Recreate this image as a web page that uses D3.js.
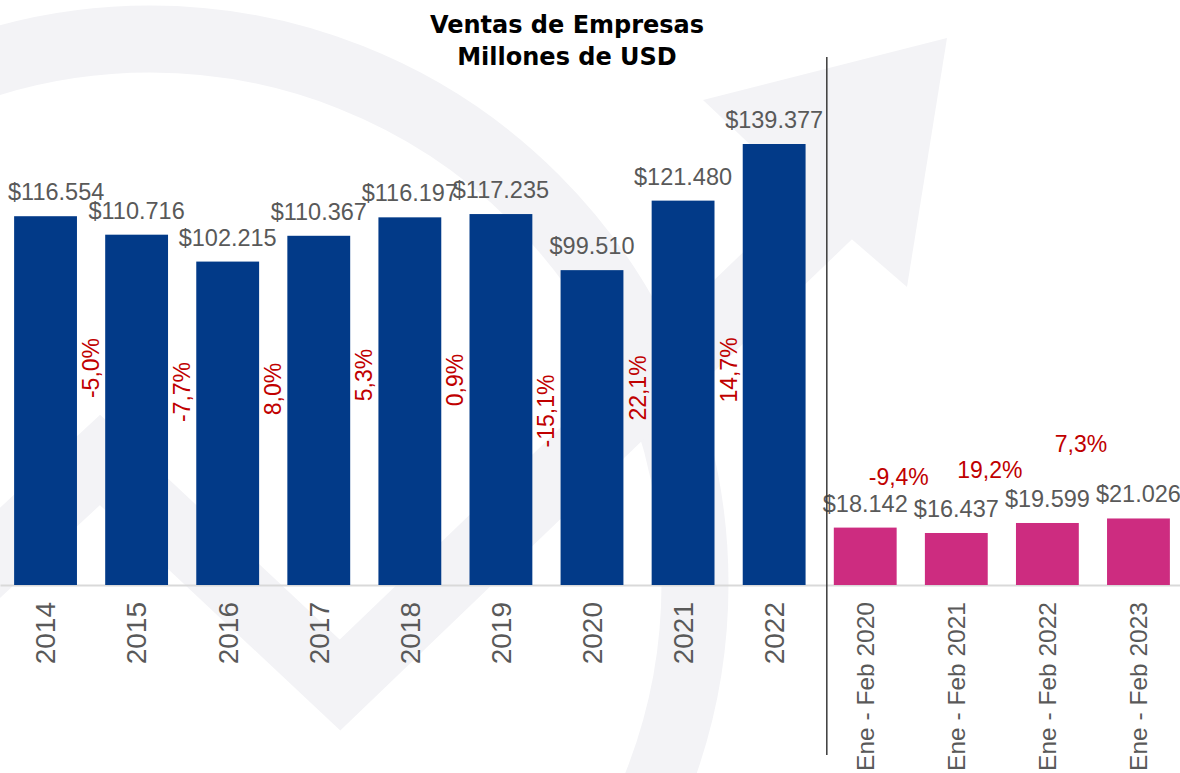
<!DOCTYPE html>
<html>
<head>
<meta charset="utf-8">
<script src="https://cdn.jsdelivr.net/npm/d3@7"></script>
<style>
  body { margin: 0; background: #fff; }
  svg { display: block; }
</style>
</head>
<body>
<svg id="chart"></svg>
<script>
// Ventas de Empresas - annual and Jan-Feb totals (millones de USD)

const years = ["2014", "2015", "2016", "2017", "2018", "2019", "2020", "2021", "2022"];
const periods = ["Ene - Feb 2020", "Ene - Feb 2021", "Ene - Feb 2022", "Ene - Feb 2023"];
const annualSales = [116554, 110716, 102215, 110367, 116197, 117235, 99510, 121480, 139377];
const periodSales = [18142, 16437, 19599, 21026];
const annualChange = [-5.0, -7.7, 8.0, 5.3, 0.9, -15.1, 22.1, 14.7];
const periodChange = [-9.4, 19.2, 7.3];
const titleLines = ["Ventas de Empresas", "Millones de USD"];

const width = 1180, height = 773;
const baseY = 585;

// label placement (copied from the original layout)
const annualPctMidY = [368, 392, 389, 375, 380, 411, 388, 370];
const periodPctBaseY = [485, 478, 452];

const locale = d3.formatLocale({
    decimal: ",", thousands: ".", grouping: [3], currency: ["$", ""], minus: "-"
});
const fmtMoney = locale.format("$,");
const fmtPct = v => locale.format(".1f")(v) + "%";

const categories = years.concat(periods);
const rows = categories.map((c, i) => ({
    cat: c,
    value: i < years.length ? annualSales[i] : periodSales[i - years.length],
    monthly: i >= years.length
}));

const svg = d3.select("#chart")
    .attr("width", width)
    .attr("height", height);

// faint watermark behind the chart
const wmColor = "#f3f3f6";
const wm = svg.append("g").attr("fill", "none").attr("stroke", wmColor);
wm.append("circle")
    .attr("cx", 150).attr("cy", 584).attr("r", 545)
    .attr("stroke-width", 67);
wm.append("path")
    .attr("d", d3.line()([[-40, 590], [100, 460], [340, 685], [840, 205]]))
    .attr("stroke-width", 66)
    .attr("stroke-linejoin", "miter");
wm.append("path")
    .attr("d", "M703,100 L947,38 L907,287 L833,223 Z")
    .attr("fill", wmColor)
    .attr("stroke", "none");

// scales
const x = d3.scaleBand()
    .domain(categories)
    .range([0, 1184])
    .paddingInner(0.31)
    .paddingOuter(0.155);

const y = d3.scaleLinear()
    .domain([0, d3.max(rows, d => d.value)])
    .range([baseY, 144]);

// x axis
const axis = svg.append("g")
    .attr("transform", `translate(0,${baseY})`)
    .call(d3.axisBottom(x).tickSize(0).tickSizeOuter(0));

axis.select(".domain")
    .attr("stroke", "#d9d9d9")
    .attr("stroke-width", 2);

axis.selectAll(".tick text")
    .attr("transform", "rotate(-90)")
    .attr("x", -17)
    .attr("y", 0)
    .attr("dy", "0.35em")
    .attr("text-anchor", "end")
    .attr("fill", "#595959")
    .style("font-family", d => periods.includes(d) ? "'Liberation Sans', Arial, sans-serif" : "'Liberation Sans Narrow', 'Liberation Sans', sans-serif")
    .style("font-size", d => periods.includes(d) ? "24.5px" : "28px");

// bars
svg.append("g")
    .selectAll("rect")
    .data(rows)
    .join("rect")
    .attr("x", d => x(d.cat))
    .attr("y", d => y(d.value))
    .attr("width", x.bandwidth())
    .attr("height", d => baseY - y(d.value))
    .attr("fill", d => d.monthly ? "#cd2c80" : "#023a88");

// value labels
const valueLabels = svg.append("g")
    .style("font-family", "'Liberation Sans', Arial, sans-serif")
    .style("font-size", "23.5px")
    .attr("fill", "#595959")
    .attr("text-anchor", "middle");

valueLabels.selectAll("text")
    .data(rows)
    .join("text")
    .attr("y", d => y(d.value) - 16)
    .text(d => fmtMoney(d.value))
    .attr("x", function(d) {
        const cx = x(d.cat) + x.bandwidth() / 2;
        const w = this.getComputedTextLength();
        return Math.max(cx, 8 + w / 2); // keep it inside the left edge
    });

// change labels between bars
const gap = i => (x(categories[i]) + x.bandwidth() + x(categories[i + 1])) / 2;

const pctLabels = svg.append("g")
    .style("font-family", "'Liberation Sans', Arial, sans-serif")
    .style("font-size", "23px")
    .attr("fill", "#c00000");

pctLabels.selectAll("text.annual")
    .data(annualChange)
    .join("text")
    .attr("class", "annual")
    .attr("text-anchor", "middle")
    .attr("dominant-baseline", "central")
    .attr("transform", (d, i) => `translate(${gap(i)},${annualPctMidY[i]}) rotate(-90)`)
    .text(d => fmtPct(d));

pctLabels.selectAll("text.period")
    .data(periodChange)
    .join("text")
    .attr("class", "period")
    .attr("text-anchor", "middle")
    .attr("x", (d, i) => gap(years.length + i) - 12)
    .attr("y", (d, i) => periodPctBaseY[i])
    .text(d => fmtPct(d));

// separator between annual and Jan-Feb blocks
const sepX = x(periods[0]) - 7;
svg.append("line")
    .attr("x1", sepX).attr("x2", sepX)
    .attr("y1", 57).attr("y2", 755)
    .attr("stroke", "#3a3a3a")
    .attr("stroke-width", 1.5);

// title
svg.append("text")
    .attr("x", 567)
    .attr("text-anchor", "middle")
    .style("font-family", "'DejaVu Sans', sans-serif")
    .style("font-weight", "bold")
    .style("font-size", "24px")
    .attr("fill", "#000")
    .selectAll("tspan")
    .data(titleLines)
    .join("tspan")
    .attr("x", 567)
    .attr("y", (d, i) => 33 + i * 32)
    .text(d => d);
</script>
</body>
</html>
